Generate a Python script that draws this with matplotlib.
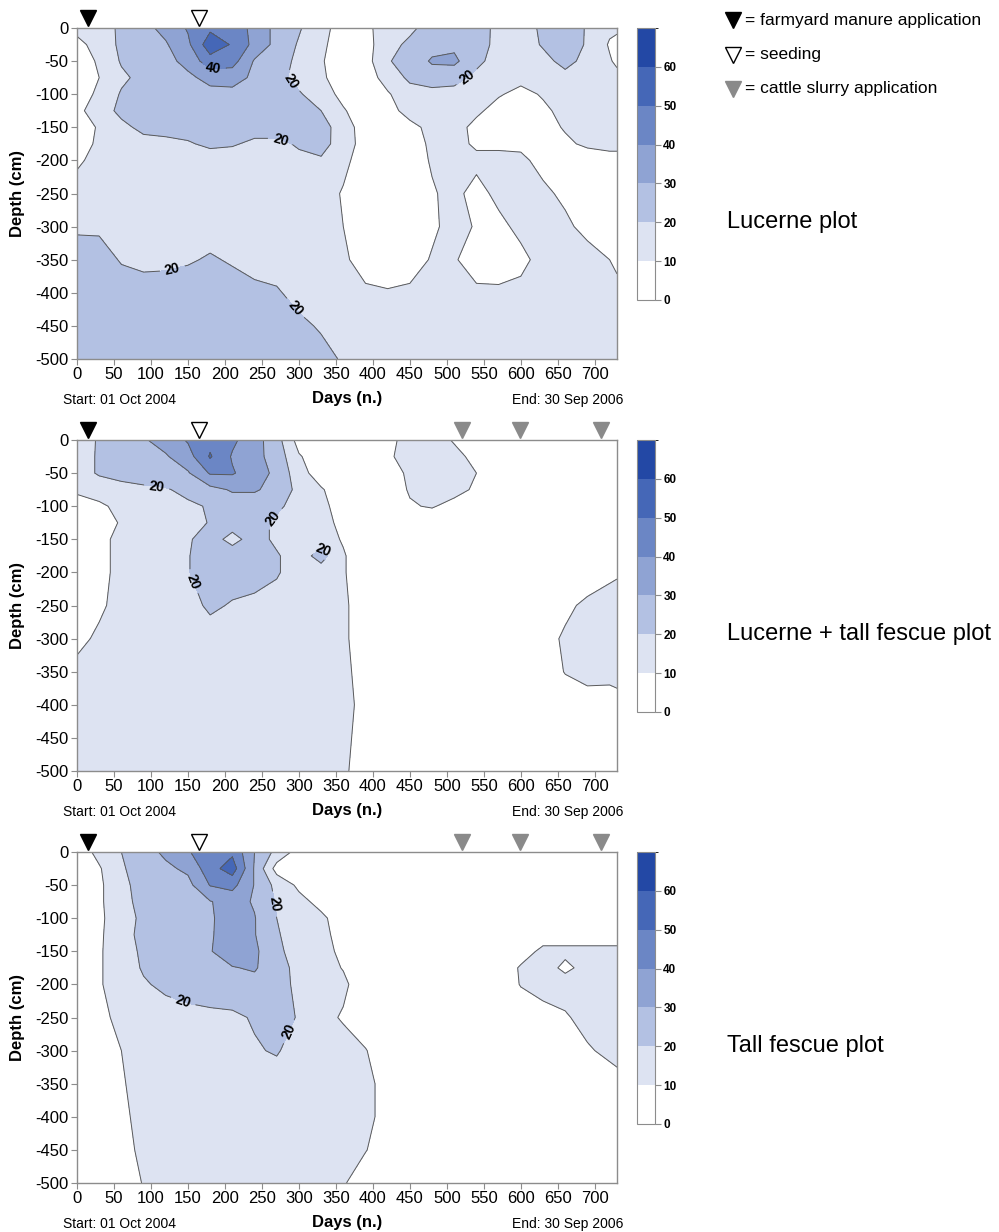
import numpy as np
import matplotlib
matplotlib.use('Agg')
import matplotlib.pyplot as plt
from matplotlib.colors import ListedColormap, BoundaryNorm
from matplotlib.lines import Line2D

plt.rcParams['font.family'] = ['Liberation Sans', 'DejaVu Sans']
plt.rcParams['axes.unicode_minus'] = False

# grid: columns = days, rows = depth (cm)
days = [0, 30, 60, 90, 120, 150, 180, 210, 240, 270, 300, 330, 360, 390, 420,
        450, 480, 510, 540, 570, 600, 630, 660, 690, 720, 730]
depths = [0, -25, -50, -75, -100, -125, -150, -175, -200, -250, -300, -350, -400, -450, -500]

levels = [0, 10, 20, 30, 40, 50, 60, 70]
level_colors = ['#ffffff', '#dde3f2', '#b3c1e3', '#8fa3d3', '#6b86c5', '#4567b7', '#2348a5']

# Lucerne plot
lucerne = [
    [13, 15, 22, 27, 33, 41, 48, 46, 37, 27, 21, 13, 6, 8, 14, 17, 26, 27, 25, 17, 15, 22, 26, 19, 12, 13],
    [7, 14, 22, 26, 29, 38, 56, 49, 37, 27, 19, 12, 5, 7, 15, 23, 27, 28, 26, 16, 15, 21, 25, 19, 9, 5],
    [6, 11, 21, 25, 27, 33, 46, 44, 29, 24, 18, 11, 4, 6, 19, 25, 31, 32, 23, 15, 14, 17, 23, 17, 11, 8],
    [5, 10, 18, 23, 26, 28, 33, 34, 28, 23, 17, 12, 4, 5, 14, 22, 26, 24, 17, 14, 13, 14, 17, 15, 14, 13],
    [5, 12, 21, 24, 25, 26, 27, 27, 26, 24, 21, 15, 7, 4, 9, 16, 16, 16, 15, 11, 7, 11, 14, 15, 16, 15],
    [8, 14, 23, 25, 25, 25, 25, 25, 25, 25, 24, 20, 11, 4, 6, 14, 15, 15, 12, 6, 4, 8, 13, 14, 15, 15],
    [5, 11, 17, 23, 24, 24, 25, 24, 24, 24, 24, 24, 15, 5, 4, 7, 13, 14, 7, 4, 4, 6, 11, 14, 15, 15],
    [5, 12, 14, 16, 17, 19, 22, 21, 18, 18, 21, 23, 16, 5, 3, 5, 12, 14, 8, 8, 8, 5, 8, 12, 14, 14],
    [8, 14, 15, 15, 15, 15, 15, 15, 15, 16, 18, 19, 13, 4, 3, 5, 11, 14, 13, 13, 12, 7, 4, 4, 5, 5],
    [15, 15, 15, 15, 16, 16, 16, 16, 16, 16, 16, 15, 9, 3, 3, 4, 9, 13, 6, 13, 14, 12, 8, 4, 4, 4],
    [18, 18, 17, 16, 16, 16, 16, 16, 16, 16, 16, 15, 10, 3, 3, 4, 8, 14, 9, 7, 13, 14, 12, 7, 4, 4],
    [26, 25, 19, 17, 18, 19, 21, 19, 17, 16, 16, 15, 12, 5, 3, 5, 11, 11, 5, 4, 7, 14, 15, 14, 10, 7],
    [27, 27, 26, 25, 24, 25, 26, 24, 22, 21, 17, 16, 15, 12, 11, 12, 14, 14, 12, 12, 13, 15, 15, 15, 14, 14],
    [28, 28, 27, 27, 26, 27, 27, 26, 25, 24, 22, 19, 16, 15, 15, 15, 15, 15, 15, 15, 15, 15, 15, 15, 15, 15],
    [28, 28, 28, 27, 27, 27, 28, 27, 26, 25, 24, 23, 19, 16, 15, 15, 15, 15, 15, 15, 15, 15, 15, 15, 15, 15],
]

# Lucerne + tall fescue plot
lucerne_fescue = [
    [15, 21, 24, 29, 34, 41, 47, 42, 34, 24, 6, 3, 2, 3, 7, 14, 15, 9, 4, 3, 2, 2, 2, 2, 2, 2],
    [16, 21, 24, 27, 29, 36, 51, 39, 33, 26, 11, 4, 2, 3, 8, 15, 16, 13, 7, 3, 2, 2, 2, 2, 2, 2],
    [16, 21, 23, 25, 27, 29, 41, 41, 34, 28, 14, 5, 2, 3, 5, 12, 15, 15, 10, 3, 2, 2, 2, 2, 2, 2],
    [12, 15, 17, 18, 19, 23, 27, 31, 31, 27, 17, 11, 4, 3, 4, 11, 14, 14, 8, 3, 2, 2, 2, 2, 2, 2],
    [5, 8, 13, 15, 16, 18, 21, 25, 25, 22, 16, 13, 5, 3, 3, 9, 11, 6, 3, 2, 2, 2, 2, 2, 2, 2],
    [4, 5, 11, 14, 15, 17, 20.5, 24, 24, 18, 15, 14, 7, 3, 2, 2, 2, 2, 2, 2, 2, 2, 2, 2, 2, 2],
    [4, 7, 13, 15, 16, 19, 24, 17, 24, 18, 15, 15, 9, 3, 2, 2, 2, 2, 2, 2, 2, 2, 2, 2, 2, 2],
    [4, 7, 13, 15, 16, 19.5, 25, 25, 25, 21, 15, 24, 11, 3, 2, 2, 2, 2, 2, 2, 2, 2, 2, 2, 2, 2],
    [4, 7, 13, 15, 16, 19.5, 25, 25, 25, 21, 15, 15, 11, 3, 2, 2, 2, 2, 2, 2, 2, 2, 2, 2, 8, 9],
    [4, 8, 14, 15, 15, 16, 22, 19, 17, 16, 15, 15, 12, 4, 2, 2, 2, 2, 2, 2, 2, 3, 7, 13, 14, 14],
    [7, 12, 14, 15, 15, 15, 15, 15, 15, 15, 15, 15, 12, 4, 2, 2, 2, 2, 2, 2, 2, 5, 12, 14, 14, 14],
    [13, 14, 15, 15, 15, 15, 15, 15, 15, 15, 15, 15, 13, 5, 2, 2, 2, 2, 2, 2, 2, 4, 10.5, 13, 12, 12],
    [15, 15, 15, 15, 15, 15, 15, 15, 15, 15, 15, 15, 14, 6, 2, 2, 2, 2, 2, 2, 2, 2, 4, 6, 7, 8],
    [15, 15, 15, 15, 15, 15, 15, 15, 15, 15, 15, 15, 13, 5, 2, 2, 2, 2, 2, 2, 2, 2, 2, 2, 2, 2],
    [15, 15, 15, 15, 15, 15, 15, 15, 15, 15, 15, 15, 12, 4, 2, 2, 2, 2, 2, 2, 2, 2, 2, 2, 2, 2],
]

# Tall fescue plot
fescue = [
    [4, 13, 20, 26, 32, 39, 47, 48, 30, 17, 6, 3, 2, 2, 2, 2, 2, 2, 2, 2, 2, 2, 2, 2, 2, 2],
    [4, 9, 19, 24, 28, 32, 46, 55, 29, 6, 4, 2, 2, 2, 2, 2, 2, 2, 2, 2, 2, 2, 2, 2, 2, 2],
    [3, 8, 18, 23, 26, 27, 40.5, 43, 29.5, 17, 8, 3, 2, 2, 2, 2, 2, 2, 2, 2, 2, 2, 2, 2, 2, 2],
    [3, 8, 18, 22, 24, 26, 29.5, 34, 29, 19, 13, 7, 3, 2, 2, 2, 2, 2, 2, 2, 2, 2, 2, 2, 2, 2],
    [3, 8, 16, 22, 24, 25, 29, 34, 30.5, 20, 15, 12, 5, 2, 2, 2, 2, 2, 2, 2, 2, 2, 2, 2, 2, 2],
    [3, 8.5, 16, 23, 24, 25, 29, 35, 30.5, 21, 15, 13, 6, 2, 2, 2, 2, 2, 2, 3, 5, 6, 6, 6, 6, 6],
    [3, 9, 15, 22, 24, 25, 29.5, 35, 32, 22, 16, 13, 8, 3, 2, 2, 2, 2, 2, 2, 6, 12, 12, 12, 12, 12],
    [3, 9, 15, 21, 24, 25, 26, 29.5, 31, 24, 17, 14, 9.5, 3, 2, 2, 2, 2, 2, 4, 11, 14, 8, 13, 14, 14],
    [3, 9, 15, 19, 22, 24, 27, 27, 27, 25, 17, 15, 12, 4, 2, 2, 2, 2, 2, 4, 10.5, 14, 14, 14, 14, 14],
    [3, 7, 13, 15, 16, 17, 17, 18, 21, 25, 19, 13, 9, 4, 2, 2, 2, 2, 2, 2, 4, 6, 9, 13, 14, 14],
    [3, 5, 10, 14, 15, 16, 16, 17, 19, 21, 15, 14, 14, 10.5, 4, 2, 2, 2, 2, 2, 2, 3, 5, 9, 12, 13],
    [2, 4, 9, 14, 15, 15, 15, 15, 15, 15, 15, 15, 15, 13, 6, 2, 2, 2, 2, 2, 2, 2, 3, 5, 6, 7],
    [2, 3, 8, 13, 15, 15, 15, 15, 15, 15, 15, 15, 15, 13, 6, 2, 2, 2, 2, 2, 2, 2, 2, 2, 2, 2],
    [2, 3, 7, 12, 15, 15, 15, 15, 15, 15, 15, 15, 14, 10.5, 4, 2, 2, 2, 2, 2, 2, 2, 2, 2, 2, 2],
    [2, 3, 5, 10.5, 14, 15, 15, 15, 15, 15, 15, 15, 11, 4, 2, 2, 2, 2, 2, 2, 2, 2, 2, 2, 2, 2],
]

# event markers (days)
manure_day = [15]
seeding_day = [165]
slurry_days = [520, 599, 709]

plot_names = ['Lucerne plot', 'Lucerne + tall fescue plot', 'Tall fescue plot']
legend_texts = ['= farmyard manure application', '= seeding', '= cattle slurry application']

# where the contour labels sit (day, depth)
label_spots = [
    {20: [(284, -86), (274, -172), (527, -74), (130, -368), (292, -426)], 40: [(184, -62)]},
    {20: [(108, -69), (261, -114), (154, -215), (334, -165)]},
    {20: [(258, -80), (143, -227), (294, -275)]},
]

fig = plt.figure(figsize=(9.99, 12.32), dpi=100)
W, H = 999, 1232
cmap = ListedColormap(level_colors)
norm = BoundaryNorm(levels, cmap.N)
grey = '#8c8c8c'
line_col = '#5a5a5a'

ax_tops = [28, 440, 852]
for i, (field, name) in enumerate(zip([lucerne, lucerne_fescue, fescue], plot_names)):
    top = ax_tops[i]
    ax = fig.add_axes([77 / W, 1 - (top + 331) / H, 540 / W, 331 / H])
    Z = np.array(field, dtype=float)
    cf = ax.contourf(days, depths, Z, levels=levels, cmap=cmap, norm=norm)
    plain = [l for l in levels[1:-1] if l not in label_spots[i]]
    ax.contour(days, depths, Z, levels=plain, colors=line_col, linewidths=0.7)
    # labelled levels get their own contour set so clabel works on them
    for lev, spots in label_spots[i].items():
        cs = ax.contour(days, depths, Z, levels=[lev], colors=line_col, linewidths=0.7)
        txts = ax.clabel(cs, manual=spots, fmt='%d', fontsize=10, inline=True, colors='black')
        for t in txts:
            t.set_fontweight('bold')

    ax.set_xlim(0, 730)
    ax.set_ylim(-500, 0)
    ax.set_xticks(range(0, 701, 50))
    ax.set_yticks(range(-500, 1, 50))
    ax.tick_params(labelsize=12, color=grey, length=4, width=0.8, pad=2)
    for sp in ax.spines.values():
        sp.set_color(grey)
        sp.set_linewidth(1.0)

    ax.text(-0.11, 0.5, 'Depth (cm)', transform=ax.transAxes, rotation=90,
            ha='center', va='center', fontsize=12, fontweight='bold')
    ax.text(0.5, -0.118, 'Days (n.)', transform=ax.transAxes, ha='center', va='center',
            fontsize=12, fontweight='bold')
    ax.text(-0.026, -0.125, 'Start: 01 Oct 2004', transform=ax.transAxes, ha='left', va='center', fontsize=10)
    ax.text(1.011, -0.125, 'End: 30 Sep 2006', transform=ax.transAxes, ha='right', va='center', fontsize=10)

    # event triangles above the frame
    tr = ax.get_xaxis_transform()
    ax.plot(manure_day, [1.03] * len(manure_day), 'v', color='black', ms=11, transform=tr, clip_on=False)
    ax.plot(seeding_day, [1.03] * len(seeding_day), 'v', mfc='white', mec='black', mew=1.0, ms=11,
            transform=tr, clip_on=False)
    if i > 0:
        ax.plot(slurry_days, [1.03] * len(slurry_days), 'v', color='#8a8a8a', ms=11, transform=tr, clip_on=False)

    # colour bar
    cax = fig.add_axes([637 / W, 1 - (top + 272) / H, 18 / W, 272 / H])
    cb = fig.colorbar(cf, cax=cax, ticks=levels[:-1])
    cb.outline.set_edgecolor(grey)
    cb.outline.set_linewidth(0.8)
    cax.tick_params(labelsize=8.5, color=grey, length=4, width=0.8, pad=2)
    for t in cax.get_yticklabels():
        t.set_fontweight('bold')

    fig.text(727 / W, 1 - (top + 194) / H, name, ha='left', va='center', fontsize=17)

# legend in the top right corner
legend_y = [20, 55, 89]
legend_style = [dict(color='black'), dict(mfc='white', mec='black', mew=1.0), dict(color='#8a8a8a')]
for txt, yy, st in zip(legend_texts, legend_y, legend_style):
    fig.add_artist(Line2D([733 / W], [1 - yy / H], marker='v', ms=11, ls='none',
                          transform=fig.transFigure, **st))
    fig.text(745 / W, 1 - yy / H, txt, ha='left', va='center', fontsize=12.5)

fig.savefig('out.png', dpi=100)
